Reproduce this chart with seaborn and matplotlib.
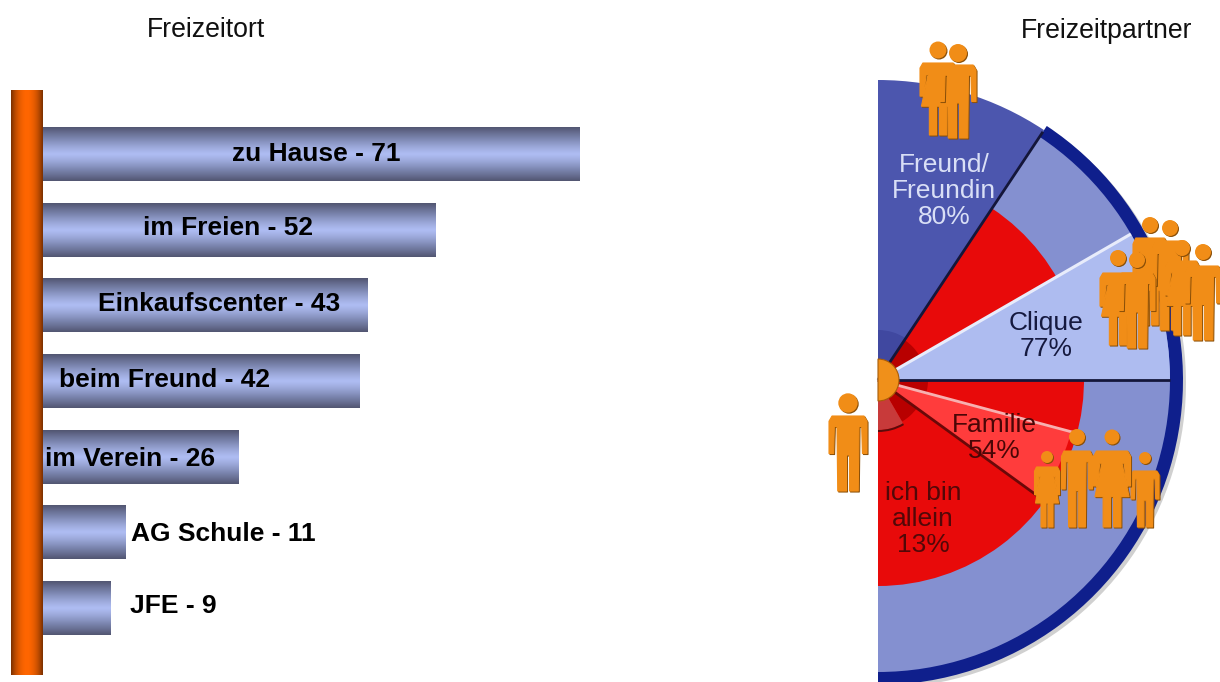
import numpy as np
import pandas as pd
import seaborn as sns
import matplotlib
matplotlib.use("Agg")
import matplotlib.pyplot as plt
from matplotlib.colors import LinearSegmentedColormap
from matplotlib.patches import Wedge, Circle, Polygon

# ---- data ----
places = ["zu Hause", "im Freien", "Einkaufscenter", "beim Freund", "im Verein", "AG Schule", "JFE"]
place_counts = [71, 52, 43, 42, 26, 11, 9]
partners = ["Freund/\nFreundin", "Clique", "Familie", "ich bin\nallein"]
partner_pct = [80, 77, 54, 13]
title_left = "Freizeitort"
title_right = "Freizeitpartner"

# ---- layout ----
W, H = 1220, 682
sns.set_theme(style="white")
plt.rcParams["font.family"] = ["Liberation Sans", "DejaVu Sans"]
FS = 19
fig = plt.figure(figsize=(W / 100, H / 100), dpi=100, facecolor="white")


def axes_px(x0, y0, x1, y1):
    return fig.add_axes([x0 / W, 1 - y1 / H, (x1 - x0) / W, (y1 - y0) / H])


# ---- left: bars ----
PX_UNIT = 7.565
X0 = 42
ax = axes_px(11, 90, 620, 675)
df = pd.DataFrame({"place": places, "count": place_counts})
sns.barplot(data=df, y="place", x="count", orient="h", width=0.705, ax=ax, color="#aebcf0")
xlim = ((11 - X0) / PX_UNIT, (620 - X0) / PX_UNIT)
PITCH = 75.67
ylim = (6 + (675 - 608.4) / PITCH, -(154.4 - 90) / PITCH)

t = np.abs(np.linspace(-1, 1, 101)) ** 1.25
tc = np.abs(np.linspace(-1, 1, 101)) ** 2.0
bar_cmap = LinearSegmentedColormap.from_list("bar", ["#aebcf2", "#7c86b0", "#525672"])
col_cmap = LinearSegmentedColormap.from_list("col", ["#ff6600", "#c04c00", "#7a3000"])
for p in list(ax.patches):
    x, y, w, h = p.get_x(), p.get_y(), p.get_width(), p.get_height()
    ax.imshow(t[:, None], cmap=bar_cmap, vmin=0, vmax=1, aspect="auto",
              extent=(x, x + w, y + h, y), zorder=2, interpolation="bilinear")
    p.set_visible(False)
ax.imshow(tc[None, :], cmap=col_cmap, vmin=0, vmax=1, aspect="auto",
          extent=(xlim[0], (43 - X0) / PX_UNIT, ylim[0], ylim[1]), zorder=3, interpolation="bilinear")
ax.set_xlim(xlim)
ax.set_ylim(ylim)
ax.axis("off")

label_left_px = [232, 143, 98, 59, 45, 131, 130]
label_y_px = [154, 228, 304, 380, 459, 534, 606]
for name, val, lx, ly in zip(places, place_counts, label_left_px, label_y_px):
    ax.text((lx - X0) / PX_UNIT, (ly - 154.4) / PITCH, f"{name} - {val}", fontsize=FS,
            fontweight="bold", color="black", va="center", ha="left", zorder=5)

fig.text(147 / W, 1 - 30 / H, title_left, fontsize=19.2, color="#111111", va="center", ha="left")
fig.text(1021 / W, 1 - 31 / H, title_right, fontsize=19.2, color="#111111", va="center", ha="left")

# ---- right: half disc ----
CX, CY = 878, 380
bx = axes_px(820, 0, 1220, 682)
bx.set_xlim(820 - CX, 1220 - CX)
bx.set_ylim(CY - 682, CY)
bx.axis("off")


def P(x, y):
    return x - CX, CY - y


NAVY = "#0f1f8c"
MID = "#8490d0"
LIGHT = "#aebcf0"
BLUE = "#4c56ae"
RED = "#e80a0a"
R_OUT, R_IN, R_RED = 305, 292, 206

bx.add_patch(Wedge((3, -3), R_OUT, -90, 56, fc="#444444", alpha=0.25, ec="none", zorder=1))
bx.add_patch(Wedge((0, 0), R_OUT, -90, 56.4, fc=NAVY, ec="none", zorder=2))
bx.add_patch(Wedge((0, 0), R_IN, -90, 56.4, fc=MID, ec="none", zorder=3))
bx.add_patch(Wedge((0, 0), 300, 56.4, 90, fc=BLUE, ec="none", zorder=3))
bx.add_patch(Wedge((0, 0), R_RED, -90, 56.4, fc=RED, ec="none", zorder=4))
bx.add_patch(Wedge((0, 0), R_IN, 0, 30, fc=LIGHT, ec="none", zorder=5))
bx.add_patch(Wedge((0, 0), 200, -36, -15, fc="#ff3c3c", ec="none", zorder=5))

for t1, t2, r, c in [(30, 56.4, 48, "#b80000"), (56.4, 90, 50, "#4048a0"), (-15, 0, 50, "#bb0000"),
                     (-60, -36, 48, "#b80000"), (-90, -60, 50, "#c83a3a")]:
    bx.add_patch(Wedge((0, 0), r, t1, t2, fc=c, ec="none", zorder=6))
bx.add_patch(Wedge((0, 0), 52, -90, -60, width=2, fc="#5a0c0c", ec="none", zorder=6))


def ray(angle, r, color, lw):
    a = np.deg2rad(angle)
    bx.plot([0, r * np.cos(a)], [0, r * np.sin(a)], color=color, lw=lw, zorder=7, solid_capstyle="butt")


ray(56.4, 298, "#14163a", 2.0)
ray(30, R_IN, "#e8ecfb", 2.2)
ray(0, R_IN, "#14163a", 2.0)
ray(-15, 203, "#f7b0b0", 2.0)
ray(-36, 200, "#6a0808", 2.0)
bx.add_patch(Wedge((0, 0), 21, -90, 90, fc="#f0901a", ec="#a85c08", lw=0.8, zorder=8))

# figures
MAN = np.array([(-.5, .07), (-.42, 0), (.42, 0), (.5, .07), (.5, .5), (.38, .5), (.36, .14), (.29, .14), (.27, 1),
                (.04, 1), (.04, .52), (-.04, .52), (-.04, 1), (-.27, 1), (-.29, .14), (-.36, .14), (-.38, .5),
                (-.5, .5)])
DRESS = np.array([(-.5, .07), (-.42, 0), (.42, 0), (.5, .07), (.5, .46), (.4, .46), (.33, .16), (.27, .16),
                  (.46, .6), (.24, .6), (.24, 1), (.04, 1), (.04, .6), (-.04, .6), (-.04, 1), (-.24, 1), (-.24, .6),
                  (-.46, .6), (-.27, .16), (-.33, .16), (-.4, .46), (-.5, .46)])
ORANGE = "#f18d17"
SHADE = "#8a4f08"


def person(hx, hy, hr, w, sy, fy, dress, z):
    shape = DRESS if dress else MAN
    hc = P(hx, hy)
    pts = np.array([P(hx + a * w, sy + b * (fy - sy)) for a, b in shape])
    for off, col, zz in [((1.0, -1.0), SHADE, z), ((0, 0), ORANGE, z + 0.1)]:
        bx.add_patch(Polygon(pts + off, closed=True, fc=col, ec=col, lw=0.8, joinstyle="round", zorder=zz))
        bx.add_patch(Circle((hc[0] + off[0], hc[1] + off[1]), hr, fc=col, ec="none", zorder=zz))


people = [
    (848, 403, 9.7, 38, 416, 491, False),
    (938, 50, 8.5, 36, 63, 135, True), (958, 53, 9, 36, 65, 138, False),
    (1150, 225, 8, 34, 238, 325, True), (1170, 228, 8, 36, 241, 330, False),
    (1182, 248, 8, 34, 261, 335, True), (1203, 252, 8, 36, 266, 340, False),
    (1118, 258, 8, 36, 273, 345, True), (1137, 260, 8, 36, 273, 348, False),
    (1047, 457, 6, 25, 467, 527, True), (1145, 458, 6, 28, 471, 527, False),
    (1077, 437, 8, 31, 451, 527, False), (1112, 437, 7.5, 37, 451, 527, True),
]
for i, pr in enumerate(people):
    person(*pr, 10 + i * 0.2)

pos = [(944, 191), (1046, 336), (994, 438), (923, 519)]
cols = ["#d9dff6", "#15193f", "#4a0606", "#520808"]
for name, pct, (x, y), c in zip(partners, partner_pct, pos, cols):
    bx.text(*P(x, y), f"{name}\n{pct}%", fontsize=FS, color=c, ha="center", va="center",
            linespacing=1.13, zorder=9)

fig.savefig("out.png", dpi=100, facecolor="white")
